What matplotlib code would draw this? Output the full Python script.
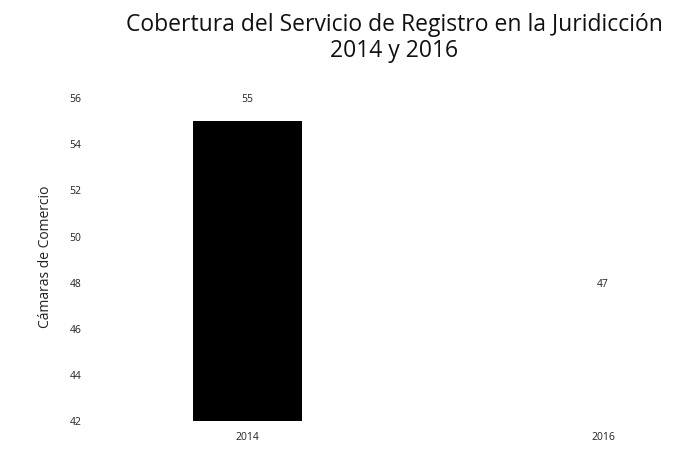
import matplotlib
matplotlib.use("Agg")
import matplotlib.pyplot as plt

categories = ["2014", "2016"]
values = [55, 47]
bar_colors = ["#000000", "#ffffff"]
yticks = [42, 44, 46, 48, 50, 52, 54, 56]

plt.rcParams['font.family'] = ['Open Sans', 'DejaVu Sans']

fig = plt.figure(figsize=(6.8, 4.54), dpi=100)
ax = fig.add_axes([0.132, 0.0727, 0.868, 0.724])
x = list(range(len(categories)))
bars = ax.bar(x, [v - 42 for v in values], bottom=42, width=0.307, color=bar_colors)
for xi, v in zip(x, values):
    ax.text(xi, v + 0.7, str(v), ha='center', va='bottom', fontsize=7.5, color='#222222')
ax.set_xlim(-0.445, 1.217)
ax.set_ylim(42, 56.26)
ax.set_yticks(yticks)
ax.set_yticklabels([str(t) for t in yticks], fontsize=7.5, color='#222222')
ax.set_xticks(x)
ax.set_xticklabels(categories, fontsize=7.5, color='#222222')
ax.tick_params(length=0, pad=6)
ax.tick_params(axis='x', pad=8)
for s in ax.spines.values():
    s.set_visible(False)
ax.set_ylabel("Cámaras de Comercio", fontsize=10, color='#222222', labelpad=12)
fig.text(0.58, 0.972, "Cobertura del Servicio de Registro en la Juridicción\n2014 y 2016",
         ha='center', va='top', fontsize=16.5, color='#111111', linespacing=1.15)
fig.savefig("out.png", dpi=100)
